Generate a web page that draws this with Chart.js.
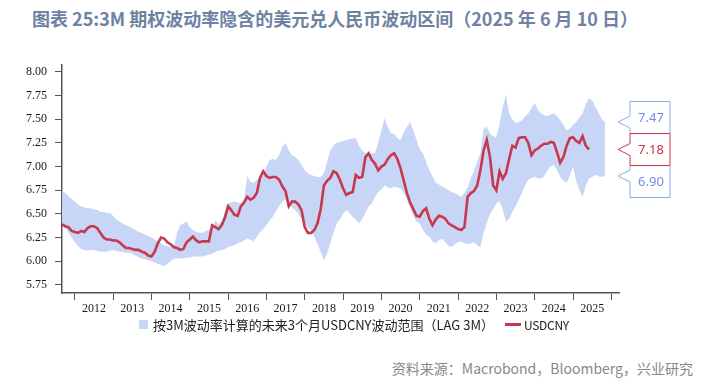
<!DOCTYPE html>
<html>
<head>
<meta charset="utf-8">
<script src="https://cdn.jsdelivr.net/npm/chart.js@4.4.1/dist/chart.umd.min.js"></script>
<style>
    body { margin: 0; width: 718px; height: 388px; background: #fff; position: relative; overflow: hidden; font-family: "Noto Sans CJK SC", "Noto Sans", sans-serif; }
    #title { position: absolute; left: 32px; top: 5px; font-size: 18px; font-weight: 700; color: #6e82a1; white-space: nowrap; }
    #wrap { position: absolute; left: 0; top: 50px; width: 718px; height: 270px; }
    #legend { position: absolute; left: 139px; top: 315px; display: flex; align-items: center; font-size: 13px; color: #222; white-space: nowrap; }
    #legend .swatch { width: 9px; height: 9px; margin-right: 5px; }
    #legend .line { width: 16px; height: 3px; margin: 0 3px 0 11px; }
    #legend .small { font-size: 12px; letter-spacing: -0.3px; }
    #source { position: absolute; right: 25px; top: 358px; font-size: 14px; color: #888; white-space: nowrap; }
</style>
</head>
<body>
<div id="title">图表 25:3M 期权波动率隐含的美元兑人民币波动区间（2025 年 6 月 10 日）</div>
<div id="wrap"><canvas id="chart"></canvas></div>
<div id="legend"></div>
<div id="source">资料来源：Macrobond，Bloomberg，兴业研究</div>
<script>
// Monthly series, starting 2011-09
const startMonth = '2011-09';

// USDCNY spot, 2011-09 .. 2025-06
const usdcny = [
    6.39, 6.37, 6.36, 6.32,
    6.31, 6.30, 6.32, 6.31, 6.35, 6.37, 6.37, 6.35, 6.30, 6.25, 6.23, 6.23,
    6.22, 6.22, 6.20, 6.17, 6.14, 6.14, 6.13, 6.12, 6.12, 6.10, 6.09, 6.06,
    6.05, 6.10, 6.19, 6.25, 6.24, 6.20, 6.18, 6.15, 6.14, 6.12, 6.13, 6.20,
    6.23, 6.26, 6.22, 6.20, 6.21, 6.21, 6.21, 6.38, 6.36, 6.34, 6.38, 6.46,
    6.58, 6.54, 6.49, 6.48, 6.58, 6.62, 6.68, 6.65, 6.67, 6.72, 6.88, 6.95,
    6.90, 6.88, 6.89, 6.89, 6.86, 6.79, 6.74, 6.58, 6.63, 6.63, 6.60, 6.54,
    6.36, 6.30, 6.30, 6.33, 6.40, 6.55, 6.80, 6.85, 6.88, 6.95, 6.93, 6.86,
    6.77, 6.70, 6.72, 6.73, 6.91, 6.88, 6.89, 7.10, 7.14, 7.07, 7.03, 6.96,
    7.00, 7.02, 7.08, 7.12, 7.14, 7.08, 6.98, 6.85, 6.72, 6.62, 6.55, 6.48,
    6.47, 6.53, 6.56, 6.45, 6.38, 6.44, 6.48, 6.47, 6.45, 6.40, 6.38, 6.36,
    6.34, 6.33, 6.36, 6.68, 6.72, 6.74, 6.80, 6.96, 7.17, 7.28, 7.10, 6.80,
    6.75, 6.95, 6.87, 6.93, 7.08, 7.22, 7.20, 7.30, 7.31, 7.31, 7.25, 7.12,
    7.17, 7.19, 7.22, 7.24, 7.24, 7.26, 7.25, 7.15, 7.04, 7.10, 7.22, 7.30,
    7.31, 7.27, 7.25, 7.32, 7.22, 7.18
];

// Upper edge of the implied 3M range (lag 3M), 2011-09 .. 2025-11
const bandUpper = [
    6.74, 6.72, 6.69, 6.66,
    6.63, 6.60, 6.58, 6.57, 6.56, 6.56, 6.55, 6.54, 6.52, 6.52, 6.51, 6.51,
    6.48, 6.44, 6.42, 6.40, 6.38, 6.37, 6.35, 6.33, 6.31, 6.30, 6.28, 6.27,
    6.25, 6.23, 6.21, 6.19, 6.17, 6.16, 6.15, 6.15, 6.30, 6.38, 6.40, 6.42,
    6.36, 6.33, 6.31, 6.30, 6.30, 6.32, 6.33, 6.35, 6.43, 6.39, 6.42, 6.52,
    6.61, 6.62, 6.63, 6.62, 6.61, 6.66, 6.90, 6.84, 6.83, 6.86, 6.88, 6.91,
    7.00, 7.07, 7.08, 7.07, 7.12, 7.21, 7.25, 7.17, 7.12, 7.10, 7.07, 7.02,
    6.96, 6.93, 6.91, 6.90, 6.89, 6.89, 6.93, 7.05, 7.17, 7.22, 7.25, 7.26,
    7.27, 7.28, 7.29, 7.30, 7.30, 7.22, 7.17, 7.14, 7.14, 7.14, 7.14, 7.25,
    7.38, 7.51, 7.42, 7.35, 7.35, 7.30, 7.28, 7.36, 7.42, 7.47, 7.38, 7.28,
    7.18, 7.14, 7.05, 6.96, 6.90, 6.83, 6.81, 6.79, 6.77, 6.75, 6.73, 6.72,
    6.70, 6.68, 6.72, 6.78, 6.88, 6.95, 7.05, 7.14, 7.40, 7.42, 7.35, 7.32,
    7.31, 7.45, 7.63, 7.76, 7.56, 7.50, 7.46, 7.47, 7.49, 7.53, 7.56, 7.62,
    7.67, 7.60, 7.56, 7.54, 7.53, 7.55, 7.56, 7.53, 7.49, 7.44, 7.38, 7.40,
    7.44, 7.47, 7.52, 7.56, 7.66, 7.72, 7.70, 7.63, 7.57, 7.50, 7.47
];

// Lower edge of the implied 3M range (lag 3M), 2011-09 .. 2025-11
const bandLower = [
    6.40, 6.36, 6.30, 6.25,
    6.20, 6.16, 6.13, 6.12, 6.11, 6.12, 6.12, 6.11, 6.10, 6.10, 6.10, 6.11,
    6.12, 6.11, 6.10, 6.10, 6.09, 6.09, 6.08, 6.06, 6.04, 6.03, 6.02, 6.01,
    6.00, 5.99, 5.97, 5.96, 5.95, 5.97, 6.00, 6.03, 6.03, 6.03, 6.03, 6.04,
    6.04, 6.05, 6.05, 6.05, 6.05, 6.06, 6.07, 6.08, 6.10, 6.11, 6.12, 6.13,
    6.15, 6.16, 6.17, 6.19, 6.20, 6.22, 6.24, 6.23, 6.21, 6.26, 6.31, 6.34,
    6.38, 6.43, 6.47, 6.53, 6.58, 6.63, 6.65, 6.60, 6.57, 6.54, 6.50, 6.45,
    6.40, 6.35, 6.32, 6.26, 6.18, 6.10, 6.01, 6.08, 6.19, 6.30, 6.40, 6.44,
    6.50, 6.54, 6.51, 6.47, 6.44, 6.40, 6.45, 6.51, 6.58, 6.61, 6.68, 6.73,
    6.76, 6.80, 6.78, 6.77, 6.79, 6.78, 6.77, 6.72, 6.65, 6.56, 6.48, 6.42,
    6.40, 6.33, 6.28, 6.26, 6.21, 6.19, 6.22, 6.24, 6.20, 6.16, 6.15, 6.18,
    6.20, 6.21, 6.19, 6.18, 6.19, 6.20, 6.17, 6.15, 6.30, 6.40, 6.50, 6.55,
    6.61, 6.63, 6.55, 6.42, 6.45, 6.52, 6.58, 6.65, 6.72, 6.80, 6.86, 6.88,
    6.89, 6.88, 6.87, 6.90, 6.96, 7.00, 7.02, 6.96, 6.89, 6.85, 6.83, 6.90,
    7.00, 6.85, 6.75, 6.68, 6.80, 6.87, 6.89, 6.91, 6.90, 6.89, 6.90
];

const yearLabels = [2012, 2013, 2014, 2015, 2016, 2017, 2018, 2019, 2020, 2021, 2022, 2023, 2024, 2025];
const yearEdges = [2012, 2013, 2014, 2015, 2016, 2017, 2018, 2019, 2020, 2021, 2022, 2023, 2024, 2025, 2026];
const yTicks = [5.75, 6.00, 6.25, 6.50, 6.75, 7.00, 7.25, 7.50, 7.75, 8.00];

const calloutValues = [7.47, 7.18, 6.90];
const calloutLabels = ['7.47', '7.18', '6.90'];

const bandLabel = '按3M波动率计算的未来3个月USDCNY波动范围（LAG 3M）';
const lineLabel = 'USDCNY';

const BAND_COLOR = '#c7d6f6';
const LINE_COLOR = '#c8374b';
const BLUE_BOX = '#8aaaf0';
const BLUE_TEXT = '#6f8fe3';

// month index -> decimal year
function monthToYear(i) {
    const [y, m] = startMonth.split('-').map(Number);
    return y + (m - 1 + i) / 12;
}

function toPoints(values) {
    return values.map((v, i) => ({ x: monthToYear(i), y: v }));
}

// Legend (HTML, below chart)
document.getElementById('legend').innerHTML = `
    <span class="swatch" style="background:${BAND_COLOR}"></span><span>${bandLabel}</span>
    <span class="line" style="background:${LINE_COLOR}"></span><span class="small">${lineLabel}</span>
`;

// Callout boxes on the right, pointing at the latest values
const calloutPlugin = {
    id: 'callouts',
    afterDraw(chart) {
        const ctx = chart.ctx;
        const yScale = chart.scales.y;
        const boxH = 32, left = 630, right = 670, tipX = 618;
        const mid = yScale.getPixelForValue(calloutValues[1]);
        const order = [0, 2, 1]; // red one last so its border sits on top
        ctx.save();
        order.forEach(i => {
            const top = mid - boxH / 2 + (i - 1) * boxH;
            let py = yScale.getPixelForValue(calloutValues[i]);
            py = Math.max(top + 8, Math.min(top + boxH - 8, py));
            const isRed = i === 1;
            ctx.beginPath();
            ctx.moveTo(left, top);
            ctx.lineTo(right, top);
            ctx.lineTo(right, top + boxH);
            ctx.lineTo(left, top + boxH);
            ctx.lineTo(left, py + 6);
            ctx.lineTo(tipX, py);
            ctx.lineTo(left, py - 6);
            ctx.closePath();
            ctx.fillStyle = '#fff';
            ctx.fill();
            ctx.lineWidth = 1;
            ctx.strokeStyle = isRed ? LINE_COLOR : BLUE_BOX;
            ctx.stroke();
            ctx.fillStyle = isRed ? '#c5303f' : BLUE_TEXT;
            ctx.font = '13px "Noto Sans", sans-serif';
            ctx.textAlign = 'center';
            ctx.textBaseline = 'middle';
            ctx.fillText(calloutLabels[i], (left + right) / 2 + 1, top + boxH / 2 + 1);
        });
        ctx.restore();
    }
};

const tickFont = { family: '"Liberation Serif", "Times New Roman", serif', size: 12 };
const xMin = monthToYear(0);
const xMax = 2026.2;

new Chart(document.getElementById('chart'), {
    type: 'line',
    data: {
        datasets: [
            {
                label: lineLabel,
                data: toPoints(usdcny),
                borderColor: LINE_COLOR,
                borderWidth: 2.6,
                pointRadius: 0,
                tension: 0,
                fill: false
            },
            {
                label: bandLabel,
                data: toPoints(bandUpper),
                borderWidth: 0,
                borderColor: 'rgba(0,0,0,0)',
                backgroundColor: BAND_COLOR,
                pointRadius: 0,
                tension: 0,
                fill: '+1'
            },
            {
                label: 'lower',
                data: toPoints(bandLower),
                borderWidth: 0,
                borderColor: 'rgba(0,0,0,0)',
                pointRadius: 0,
                tension: 0,
                fill: false
            }
        ]
    },
    options: {
        responsive: true,
        maintainAspectRatio: false,
        animation: false,
        layout: { padding: { top: 15, right: 99, left: 0, bottom: 0 } },
        plugins: {
            legend: { display: false },
            tooltip: { enabled: false }
        },
        scales: {
            x: {
                type: 'linear',
                position: 'bottom',
                weight: 1,
                min: xMin,
                max: xMax,
                afterBuildTicks: s => { s.ticks = yearLabels.map(yr => ({ value: yr + 0.5 })); },
                afterFit: s => { s.height = 20; },
                grid: { display: false, drawTicks: false },
                border: { display: false },
                ticks: {
                    autoSkip: false,
                    maxRotation: 0,
                    padding: 2,
                    font: tickFont,
                    color: '#1a1a1a',
                    callback: v => String(Math.floor(v))
                }
            },
            xEdges: {
                type: 'linear',
                position: 'bottom',
                weight: 0,
                min: xMin,
                max: xMax,
                afterBuildTicks: s => { s.ticks = yearEdges.map(yr => ({ value: yr })); },
                afterFit: s => { s.height = 7; },
                grid: { drawOnChartArea: false, drawTicks: true, tickLength: 7, color: '#555', lineWidth: 1 },
                border: { display: true, color: '#555', width: 1.5 },
                ticks: { display: false }
            },
            y: {
                min: 5.665,
                max: 8.07,
                afterBuildTicks: s => { s.ticks = yTicks.map(v => ({ value: v })); },
                afterFit: s => { s.width = 62; },
                grid: { drawOnChartArea: false, drawTicks: true, tickLength: 7, color: '#555' },
                border: { display: true, color: '#555', width: 1.5 },
                ticks: {
                    padding: 8,
                    font: tickFont,
                    color: '#1a1a1a',
                    callback: v => v.toFixed(2)
                }
            }
        }
    },
    plugins: [calloutPlugin]
});
</script>
</body>
</html>
